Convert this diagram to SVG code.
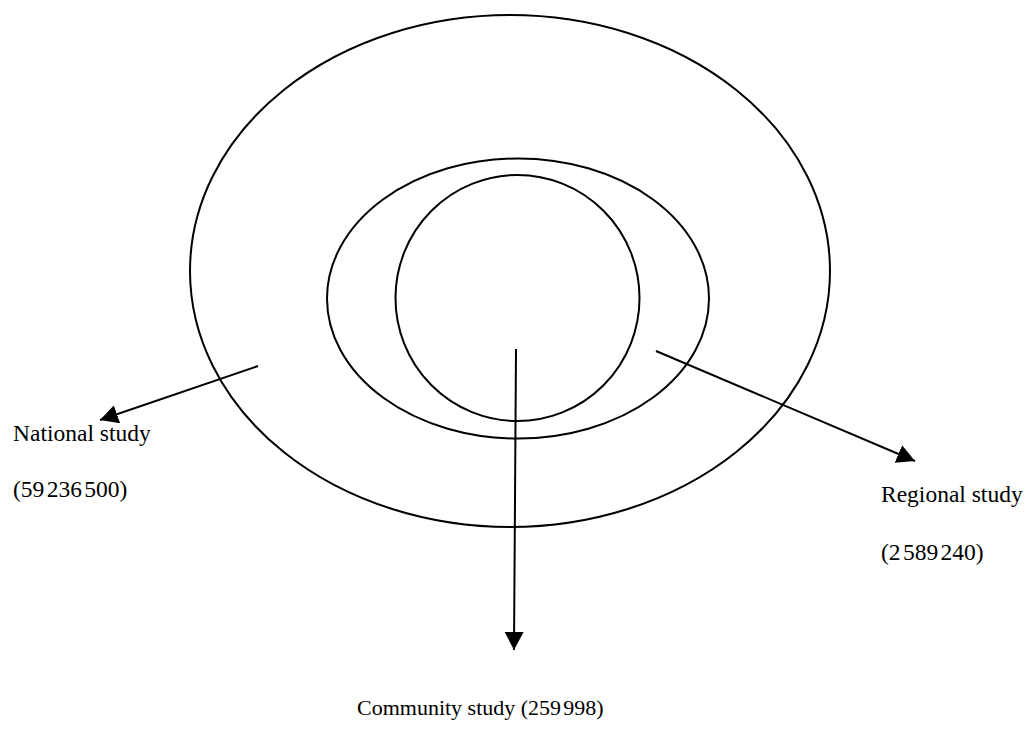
<svg xmlns="http://www.w3.org/2000/svg" width="1028" height="730" viewBox="0 0 1028 730">
<style>
.ring{fill:none;stroke:#000;stroke-width:2}
.conn{stroke:#000;stroke-width:2;fill:none;marker-end:url(#ah)}
.lbl{font-family:"Liberation Serif","Times New Roman",serif;fill:#000}
.num{word-spacing:-3.5px}
</style>
<defs>
<marker id="ah" markerUnits="userSpaceOnUse" markerWidth="20" markerHeight="20" refX="18" refY="9.5" orient="auto">
<path d="M0,0 L18,9.5 L0,19 Z" fill="#000"/>
</marker>
</defs>
<rect width="1028" height="730" fill="#fff"/>
<g id="national">
<ellipse class="ring" cx="510" cy="271" rx="320" ry="256"/>
<text class="lbl" x="13" y="441" font-size="23.5">National study</text>
<text class="lbl num" x="13" y="497" font-size="23.5">(59 236 500)</text>
</g>
<g id="regional">
<ellipse class="ring" cx="518" cy="298.5" rx="191" ry="140"/>
<text class="lbl" x="881" y="502" font-size="23.5">Regional study</text>
<text class="lbl num" x="881" y="560" font-size="23.5">(2 589 240)</text>
</g>
<g id="community">
<ellipse class="ring" cx="517.5" cy="298" rx="122" ry="123"/>
<text class="lbl" x="357" y="715" font-size="22">Community study (259<tspan word-spacing="-3.5px"> </tspan>998)</text>
</g>
<g id="connectors">
<line class="conn" x1="258" y1="366" x2="100" y2="420"/>
<line class="conn" x1="516" y1="349" x2="514" y2="650"/>
<line class="conn" x1="656" y1="351" x2="915" y2="461"/>
</g>
</svg>
